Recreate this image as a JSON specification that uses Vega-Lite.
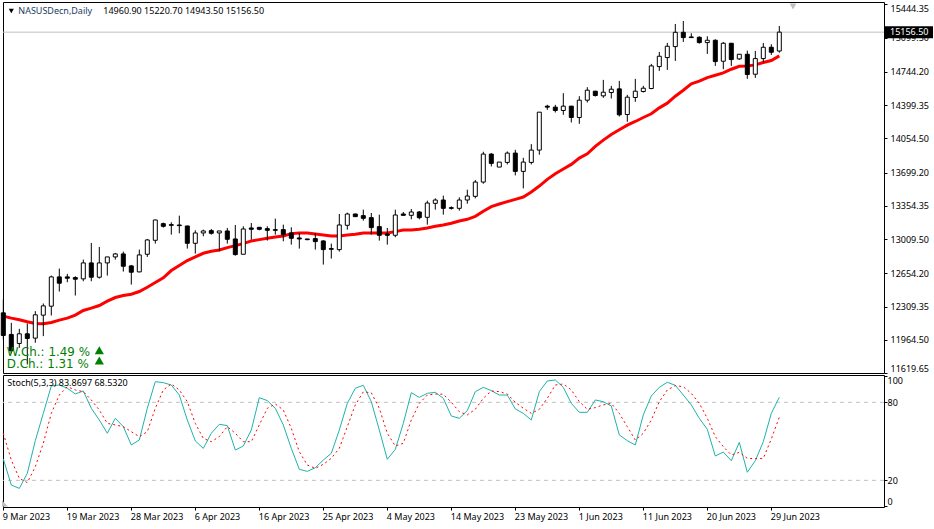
{
  "$schema": "https://vega.github.io/schema/vega-lite/v6.json",
  "background": "#ffffff",
  "padding": {"left": -4, "top": 1, "right": 0, "bottom": 0},
  "spacing": 0,
  "config": {"view": {"stroke": "#000000", "strokeWidth": 1}, "axis": {"labelOverlap": false}},
  "datasets": {
    "bars": [
      {"date":"9 Mar 2023","open":12244.0,"high":12382.1,"low":11967.7,"close":12009.2,"ma":12209.4,"k":36.4,"d":56.2},
      {"date":"10 Mar 2023","open":12019.5,"high":12140.4,"low":11822.7,"close":11850.3,"ma":12188.7,"k":16.4,"d":35.6},
      {"date":"12 Mar 2023","open":11926.3,"high":12078.2,"low":11881.4,"close":12026.4,"ma":12171.5,"k":13.8,"d":21.5},
      {"date":"13 Mar 2023","open":12026.4,"high":12133.5,"low":11708.7,"close":11978.1,"ma":12150.7,"k":25.4,"d":18.2},
      {"date":"14 Mar 2023","open":11981.5,"high":12261.3,"low":11933.2,"close":12223.3,"ma":12133.5,"k":50.5,"d":30.5},
      {"date":"15 Mar 2023","open":12219.8,"high":12340.7,"low":12002.2,"close":12316.5,"ma":12130.0,"k":71.5,"d":48.5},
      {"date":"16 Mar 2023","open":12313.0,"high":12630.7,"low":12216.3,"close":12616.9,"ma":12143.8,"k":92.6,"d":71.5},
      {"date":"17 Mar 2023","open":12616.9,"high":12703.3,"low":12465.0,"close":12551.3,"ma":12168.0,"k":93.3,"d":85.6},
      {"date":"19 Mar 2023","open":12616.9,"high":12648.0,"low":12561.7,"close":12603.1,"ma":12188.7,"k":90.8,"d":92.0},
      {"date":"20 Mar 2023","open":12610.0,"high":12623.8,"low":12423.6,"close":12592.8,"ma":12219.8,"k":86.4,"d":89.5},
      {"date":"21 Mar 2023","open":12596.2,"high":12796.5,"low":12572.0,"close":12762.0,"ma":12268.2,"k":88.7,"d":88.2},
      {"date":"22 Mar 2023","open":12762.0,"high":12969.2,"low":12572.0,"close":12613.5,"ma":12292.3,"k":75.4,"d":81.8},
      {"date":"23 Mar 2023","open":12613.5,"high":12927.7,"low":12599.7,"close":12762.0,"ma":12320.0,"k":66.4,"d":74.1},
      {"date":"24 Mar 2023","open":12762.0,"high":12824.1,"low":12630.7,"close":12824.1,"ma":12364.8,"k":56.2,"d":63.8},
      {"date":"26 Mar 2023","open":12824.1,"high":12865.6,"low":12796.5,"close":12855.2,"ma":12402.8,"k":67.7,"d":62.6},
      {"date":"27 Mar 2023","open":12855.2,"high":12879.4,"low":12672.2,"close":12727.4,"ma":12423.6,"k":61.3,"d":61.3},
      {"date":"28 Mar 2023","open":12730.9,"high":12741.3,"low":12537.5,"close":12665.3,"ma":12437.4,"k":47.2,"d":57.4},
      {"date":"29 Mar 2023","open":12668.7,"high":12900.1,"low":12665.3,"close":12844.9,"ma":12465.0,"k":51.0,"d":53.6},
      {"date":"30 Mar 2023","open":12851.8,"high":13010.6,"low":12824.1,"close":13000.3,"ma":12509.9,"k":75.4,"d":57.4},
      {"date":"31 Mar 2023","open":12996.8,"high":13210.9,"low":12962.3,"close":13207.4,"ma":12558.3,"k":95.9,"d":75.4},
      {"date":"2 Apr 2023","open":13169.5,"high":13179.8,"low":13128.0,"close":13141.8,"ma":12606.6,"k":95.1,"d":89.5},
      {"date":"3 Apr 2023","open":13159.1,"high":13183.3,"low":13055.5,"close":13152.2,"ma":12682.6,"k":93.3,"d":94.1},
      {"date":"4 Apr 2023","open":13155.7,"high":13252.3,"low":13069.3,"close":13148.7,"ma":12734.3,"k":85.6,"d":89.5},
      {"date":"5 Apr 2023","open":13145.3,"high":13148.7,"low":12910.5,"close":12965.7,"ma":12786.1,"k":66.4,"d":80.5},
      {"date":"6 Apr 2023","open":12965.7,"high":13100.4,"low":12858.7,"close":13072.8,"ma":12824.1,"k":50.3,"d":63.8},
      {"date":"7 Apr 2023","open":13072.8,"high":13107.3,"low":13038.3,"close":13093.5,"ma":12862.1,"k":44.6,"d":52.3},
      {"date":"9 Apr 2023","open":13096.9,"high":13114.2,"low":13055.5,"close":13069.3,"ma":12882.8,"k":56.2,"d":49.7},
      {"date":"10 Apr 2023","open":13072.8,"high":13093.5,"low":12882.8,"close":13093.5,"ma":12896.7,"k":63.1,"d":53.6},
      {"date":"11 Apr 2023","open":13093.5,"high":13124.6,"low":12962.3,"close":13007.2,"ma":12920.8,"k":62.1,"d":61.3},
      {"date":"12 Apr 2023","open":13010.6,"high":13155.7,"low":12837.9,"close":12848.3,"ma":12941.5,"k":43.3,"d":56.2},
      {"date":"13 Apr 2023","open":12851.8,"high":13141.8,"low":12851.8,"close":13114.2,"ma":12962.3,"k":46.4,"d":49.7},
      {"date":"14 Apr 2023","open":13124.6,"high":13176.4,"low":13003.7,"close":13110.8,"ma":12989.9,"k":58.7,"d":49.7},
      {"date":"16 Apr 2023","open":13131.5,"high":13134.9,"low":13100.4,"close":13110.8,"ma":13003.7,"k":83.6,"d":62.6},
      {"date":"17 Apr 2023","open":13117.7,"high":13141.8,"low":12993.3,"close":13100.4,"ma":13017.5,"k":81.3,"d":75.4},
      {"date":"18 Apr 2023","open":13107.3,"high":13221.3,"low":13055.5,"close":13100.4,"ma":13031.3,"k":75.4,"d":78.7},
      {"date":"19 Apr 2023","open":13107.3,"high":13159.1,"low":12986.4,"close":13055.5,"ma":13041.7,"k":62.6,"d":74.1},
      {"date":"20 Apr 2023","open":13072.8,"high":13131.5,"low":12951.9,"close":13017.5,"ma":13065.9,"k":44.6,"d":60.0},
      {"date":"21 Apr 2023","open":13021.0,"high":13072.8,"low":12910.5,"close":13010.6,"ma":13072.8,"k":28.5,"d":42.0},
      {"date":"23 Apr 2023","open":13010.6,"high":13010.6,"low":12996.8,"close":13003.7,"ma":13072.8,"k":26.9,"d":31.8},
      {"date":"24 Apr 2023","open":13014.1,"high":13072.8,"low":12900.1,"close":12983.0,"ma":13062.4,"k":29.7,"d":29.2},
      {"date":"25 Apr 2023","open":12989.9,"high":12996.8,"low":12744.7,"close":12900.1,"ma":13052.1,"k":35.6,"d":32.3},
      {"date":"26 Apr 2023","open":12910.5,"high":12962.3,"low":12806.9,"close":12903.6,"ma":13041.7,"k":40.8,"d":36.9},
      {"date":"27 Apr 2023","open":12900.1,"high":13269.6,"low":12879.4,"close":13155.7,"ma":13041.7,"k":58.7,"d":44.6},
      {"date":"28 Apr 2023","open":13152.2,"high":13283.4,"low":13107.3,"close":13269.6,"ma":13052.1,"k":79.2,"d":61.3},
      {"date":"30 Apr 2023","open":13269.6,"high":13273.1,"low":13242.0,"close":13242.0,"ma":13059.0,"k":90.8,"d":78.0},
      {"date":"1 May 2023","open":13252.4,"high":13314.5,"low":13200.6,"close":13224.7,"ma":13072.8,"k":93.1,"d":88.0},
      {"date":"2 May 2023","open":13231.6,"high":13280.0,"low":13055.5,"close":13128.0,"ma":13072.8,"k":80.5,"d":87.4},
      {"date":"3 May 2023","open":13138.4,"high":13262.7,"low":12993.4,"close":13048.6,"ma":13072.8,"k":58.7,"d":75.4},
      {"date":"4 May 2023","open":13062.4,"high":13124.6,"low":12951.9,"close":13048.6,"ma":13072.8,"k":36.2,"d":56.2},
      {"date":"5 May 2023","open":13048.6,"high":13314.5,"low":13027.9,"close":13259.3,"ma":13086.6,"k":43.8,"d":46.4},
      {"date":"7 May 2023","open":13269.6,"high":13290.3,"low":13252.4,"close":13255.8,"ma":13103.9,"k":63.8,"d":48.5},
      {"date":"8 May 2023","open":13255.8,"high":13321.4,"low":13214.4,"close":13290.3,"ma":13103.9,"k":87.4,"d":66.4},
      {"date":"9 May 2023","open":13290.3,"high":13300.7,"low":13214.4,"close":13231.6,"ma":13110.8,"k":83.8,"d":79.2},
      {"date":"10 May 2023","open":13235.1,"high":13407.8,"low":13159.1,"close":13383.6,"ma":13124.6,"k":86.9,"d":85.6},
      {"date":"11 May 2023","open":13380.1,"high":13431.9,"low":13314.5,"close":13414.7,"ma":13141.8,"k":87.7,"d":86.4},
      {"date":"12 May 2023","open":13414.7,"high":13459.6,"low":13262.7,"close":13328.3,"ma":13155.7,"k":83.1,"d":86.2},
      {"date":"14 May 2023","open":13335.3,"high":13349.0,"low":13314.5,"close":13328.3,"ma":13172.9,"k":69.5,"d":80.0},
      {"date":"15 May 2023","open":13328.3,"high":13442.3,"low":13304.2,"close":13414.7,"ma":13197.1,"k":67.7,"d":72.8},
      {"date":"16 May 2023","open":13414.7,"high":13521.7,"low":13376.7,"close":13456.1,"ma":13214.4,"k":73.6,"d":70.3},
      {"date":"17 May 2023","open":13452.6,"high":13621.9,"low":13431.9,"close":13601.1,"ma":13245.4,"k":88.2,"d":74.6},
      {"date":"18 May 2023","open":13601.1,"high":13915.4,"low":13583.9,"close":13891.2,"ma":13297.3,"k":91.5,"d":83.1},
      {"date":"19 May 2023","open":13891.2,"high":13901.6,"low":13763.4,"close":13794.5,"ma":13345.6,"k":89.0,"d":88.7},
      {"date":"21 May 2023","open":13756.5,"high":13808.3,"low":13756.5,"close":13808.3,"ma":13373.2,"k":85.6,"d":88.2},
      {"date":"22 May 2023","open":13804.9,"high":13918.8,"low":13784.2,"close":13901.6,"ma":13397.4,"k":85.6,"d":86.4},
      {"date":"23 May 2023","open":13901.6,"high":13936.1,"low":13670.2,"close":13711.6,"ma":13421.6,"k":74.9,"d":80.0},
      {"date":"24 May 2023","open":13711.6,"high":13853.2,"low":13535.5,"close":13808.3,"ma":13445.7,"k":71.5,"d":75.4},
      {"date":"25 May 2023","open":13804.9,"high":13994.8,"low":13784.2,"close":13932.7,"ma":13497.5,"k":66.4,"d":71.5},
      {"date":"26 May 2023","open":13932.7,"high":14326.3,"low":13884.3,"close":14326.3,"ma":13559.7,"k":88.2,"d":74.6},
      {"date":"28 May 2023","open":14388.5,"high":14402.3,"low":14350.5,"close":14378.1,"ma":13628.8,"k":96.4,"d":83.1},
      {"date":"29 May 2023","open":14378.1,"high":14402.3,"low":14322.9,"close":14343.6,"ma":13687.5,"k":97.2,"d":93.3},
      {"date":"30 May 2023","open":14343.6,"high":14523.2,"low":14298.7,"close":14388.5,"ma":13735.8,"k":91.5,"d":94.1},
      {"date":"31 May 2023","open":14388.5,"high":14391.9,"low":14219.3,"close":14271.1,"ma":13784.2,"k":79.2,"d":89.5},
      {"date":"1 Jun 2023","open":14271.1,"high":14492.1,"low":14205.5,"close":14450.6,"ma":13849.8,"k":72.3,"d":80.5},
      {"date":"2 Jun 2023","open":14450.6,"high":14585.3,"low":14426.5,"close":14554.3,"ma":13894.7,"k":72.3,"d":74.6},
      {"date":"4 Jun 2023","open":14543.9,"high":14547.3,"low":14488.6,"close":14499.0,"ma":13970.6,"k":81.8,"d":75.9},
      {"date":"5 Jun 2023","open":14495.5,"high":14661.3,"low":14474.8,"close":14533.5,"ma":14036.3,"k":80.5,"d":78.0},
      {"date":"6 Jun 2023","open":14530.1,"high":14599.1,"low":14467.9,"close":14564.6,"ma":14095.0,"k":77.2,"d":79.2},
      {"date":"7 Jun 2023","open":14568.1,"high":14650.9,"low":14281.4,"close":14298.7,"ma":14143.3,"k":54.9,"d":71.5},
      {"date":"8 Jun 2023","open":14302.2,"high":14505.9,"low":14226.2,"close":14481.7,"ma":14191.7,"k":50.5,"d":61.3},
      {"date":"9 Jun 2023","open":14478.3,"high":14671.7,"low":14433.4,"close":14543.9,"ma":14229.6,"k":47.2,"d":51.0},
      {"date":"11 Jun 2023","open":14540.4,"high":14599.1,"low":14530.1,"close":14575.0,"ma":14271.1,"k":70.3,"d":56.2},
      {"date":"12 Jun 2023","open":14571.5,"high":14827.1,"low":14564.6,"close":14806.3,"ma":14309.1,"k":84.9,"d":66.4},
      {"date":"13 Jun 2023","open":14799.4,"high":14951.4,"low":14754.5,"close":14906.5,"ma":14371.2,"k":91.5,"d":80.5},
      {"date":"14 Jun 2023","open":14892.7,"high":15044.6,"low":14764.9,"close":15010.1,"ma":14419.6,"k":95.4,"d":89.5},
      {"date":"15 Jun 2023","open":15006.6,"high":15241.5,"low":14858.1,"close":15155.1,"ma":14492.1,"k":93.1,"d":92.8},
      {"date":"16 Jun 2023","open":15155.1,"high":15272.5,"low":15055.0,"close":15099.9,"ma":14554.3,"k":85.6,"d":92.0},
      {"date":"18 Jun 2023","open":15106.8,"high":15144.8,"low":15099.9,"close":15099.9,"ma":14619.9,"k":78.0,"d":86.9},
      {"date":"19 Jun 2023","open":15103.3,"high":15113.7,"low":15037.7,"close":15048.1,"ma":14647.5,"k":67.7,"d":79.2},
      {"date":"20 Jun 2023","open":15048.1,"high":15113.7,"low":14930.7,"close":15072.2,"ma":14685.5,"k":59.2,"d":67.7},
      {"date":"21 Jun 2023","open":15072.2,"high":15082.6,"low":14806.3,"close":14851.2,"ma":14709.7,"k":38.7,"d":53.6},
      {"date":"22 Jun 2023","open":14854.7,"high":15055.0,"low":14771.8,"close":15041.2,"ma":14733.8,"k":41.8,"d":45.9},
      {"date":"23 Jun 2023","open":15041.2,"high":15044.6,"low":14806.3,"close":14872.0,"ma":14771.8,"k":35.1,"d":39.5},
      {"date":"25 Jun 2023","open":14878.9,"high":14927.2,"low":14868.5,"close":14927.2,"ma":14802.9,"k":49.2,"d":41.5},
      {"date":"26 Jun 2023","open":14927.2,"high":14965.2,"low":14671.7,"close":14716.6,"ma":14806.3,"k":26.2,"d":36.9},
      {"date":"27 Jun 2023","open":14720.0,"high":14961.7,"low":14682.0,"close":14882.3,"ma":14816.7,"k":35.1,"d":36.7},
      {"date":"28 Jun 2023","open":14882.3,"high":15044.6,"low":14844.3,"close":14999.7,"ma":14840.9,"k":49.7,"d":36.9},
      {"date":"29 Jun 2023","open":14999.7,"high":15030.8,"low":14920.3,"close":14947.9,"ma":14861.6,"k":71.5,"d":51.8},
      {"date":"30 Jun 2023","open":14960.9,"high":15220.7,"low":14943.5,"close":15156.5,"ma":14909.9,"k":83.87,"d":68.53}
    ]
  },
  "vconcat": [
    {
      "width": 881,
      "height": 371,
      "data": {"name": "bars"},
      "encoding": {
        "x": {
          "field": "date",
          "type": "ordinal",
          "sort": null,
          "axis": null,
          "scale": {"type": "point", "padding": 0, "range": [0.3, 776.3]}
        }
      },
      "layer": [
        {
          "mark": {"type": "rule", "color": "#c0c0c0", "strokeWidth": 1},
          "data": {"values": [{"last": 15156.5}]},
          "encoding": {
            "x": null,
            "y": {"field": "last", "type": "quantitative", "title": null, "scale": {"domain": [11619.65, 15469.4], "nice": false, "zero": false},
              "axis": {"orient": "right", "grid": false, "domain": false, "title": null, "tickColor": "#000000", "tickSize": 3, "tickCount": 12,
                "values": [15444.35, 15099.5, 14744.2, 14399.35, 14054.5, 13699.2, 13354.35, 13009.5, 12654.2, 12309.35, 11964.5, 11619.65],
                "format": ".2f", "labelFont": "Noto Sans", "labelFontSize": 9, "labelColor": "#000000", "labelPadding": 3, "labelFlush": 5, "labelOverlap": false, "labelBound": false}}
          }
        },
        {
          "mark": {"type": "line", "color": "#ff0000", "strokeWidth": 3, "interpolate": "linear"},
          "encoding": {"y": {"field": "ma", "type": "quantitative", "title": null, "scale": {"domain": [11619.65, 15469.4], "nice": false, "zero": false}}}
        },
        {
          "mark": {"type": "rule", "color": "#000000", "strokeWidth": 1},
          "encoding": {
            "y": {"field": "low", "type": "quantitative", "title": null, "scale": {"domain": [11619.65, 15469.4], "nice": false, "zero": false}},
            "y2": {"field": "high"}
          }
        },
        {
          "mark": {"type": "bar", "size": 4, "stroke": "#000000", "strokeWidth": 1},
          "encoding": {
            "y": {"field": "open", "type": "quantitative", "title": null, "scale": {"domain": [11619.65, 15469.4], "nice": false, "zero": false}},
            "y2": {"field": "close"},
            "fill": {"condition": {"test": "datum.close >= datum.open", "value": "#ffffff"}, "value": "#000000"}
          }
        },
        {
          "mark": {"type": "point", "shape": "triangle-down", "filled": true, "size": 26, "color": "#000000", "opacity": 1},
          "data": {"values": [{"date": "10 Mar 2023", "price": 15376}]},
          "encoding": {"y": {"field": "price", "type": "quantitative", "title": null, "scale": {"domain": [11619.65, 15469.4], "nice": false, "zero": false}}}
        },
        {
          "mark": {"type": "text", "align": "left", "baseline": "middle", "dx": -1, "font": "Noto Sans", "fontSize": 9, "color": "#1c3a5e"},
          "data": {"values": [{"date": "12 Mar 2023", "price": 15376, "label": "NASUSDecn,Daily"}]},
          "encoding": {
            "y": {"field": "price", "type": "quantitative", "title": null, "scale": {"domain": [11619.65, 15469.4], "nice": false, "zero": false}},
            "text": {"field": "label"}
          }
        },
        {
          "mark": {"type": "text", "align": "left", "baseline": "middle", "dx": 4, "font": "Noto Sans", "fontSize": 9, "color": "#000000"},
          "data": {"values": [{"date": "23 Mar 2023", "price": 15376, "label": "14960.90 15220.70 14943.50 15156.50"}]},
          "encoding": {
            "y": {"field": "price", "type": "quantitative", "title": null, "scale": {"domain": [11619.65, 15469.4], "nice": false, "zero": false}},
            "text": {"field": "label"}
          }
        },
        {
          "mark": {"type": "text", "align": "left", "baseline": "middle", "dx": 3.5, "font": "DejaVu Sans", "fontSize": 11.9, "color": "#008000"},
          "data": {"values": [
            {"date": "9 Mar 2023", "price": 11840, "label": "W.Ch.: 1.49 %"},
            {"date": "9 Mar 2023", "price": 11710, "label": "D.Ch.: 1.31 %"}
          ]},
          "encoding": {
            "y": {"field": "price", "type": "quantitative", "title": null, "scale": {"domain": [11619.65, 15469.4], "nice": false, "zero": false}},
            "text": {"field": "label"}
          }
        },
        {
          "mark": {"type": "point", "shape": "triangle-up", "filled": true, "size": 85, "color": "#008000", "opacity": 1},
          "data": {"values": [
            {"date": "23 Mar 2023", "price": 11855},
            {"date": "23 Mar 2023", "price": 11750}
          ]},
          "encoding": {"y": {"field": "price", "type": "quantitative", "title": null, "scale": {"domain": [11619.65, 15469.4], "nice": false, "zero": false}}}
        },
        {
          "mark": {"type": "point", "shape": "triangle-down", "filled": true, "size": 45, "color": "#c0c0c0", "opacity": 1, "xOffset": 13.7},
          "data": {"values": [{"date": "30 Jun 2023", "price": 15423}]},
          "encoding": {"y": {"field": "price", "type": "quantitative", "title": null, "scale": {"domain": [11619.65, 15469.4], "nice": false, "zero": false}}}
        },
        {
          "mark": {"type": "tick", "orient": "horizontal", "size": 48, "thickness": 12, "color": "#000000", "opacity": 1, "xOffset": 129.7},
          "data": {"values": [{"date": "30 Jun 2023", "price": 15156.5}]},
          "encoding": {"y": {"field": "price", "type": "quantitative", "title": null, "scale": {"domain": [11619.65, 15469.4], "nice": false, "zero": false}}}
        },
        {
          "mark": {"type": "text", "align": "left", "baseline": "middle", "dx": 110.7, "font": "Noto Sans", "fontSize": 9, "color": "#ffffff"},
          "data": {"values": [{"date": "30 Jun 2023", "price": 15156.5, "label": "15156.50"}]},
          "encoding": {
            "y": {"field": "price", "type": "quantitative", "title": null, "scale": {"domain": [11619.65, 15469.4], "nice": false, "zero": false}},
            "text": {"field": "label"}
          }
        }
      ]
    },
    {
      "width": 881,
      "height": 132,
      "data": {"name": "bars"},
      "encoding": {
        "x": {
          "field": "date",
          "type": "ordinal",
          "sort": null,
          "title": null,
          "scale": {"type": "point", "padding": 0, "range": [0.3, 776.3]},
          "axis": {"domain": false, "grid": false, "title": null, "tickColor": "#000000", "tickSize": 3, "labelAngle": 0, "labelAlign": "left", "labelFont": "Noto Sans", "labelFontSize": 9, "labelColor": "#000000", "labelPadding": 2, "labelOffset": -1, "labelOverlap": false, "labelBound": false, "labelFlush": false,
            "values": ["9 Mar 2023", "19 Mar 2023", "28 Mar 2023", "6 Apr 2023", "16 Apr 2023", "25 Apr 2023", "4 May 2023", "14 May 2023", "23 May 2023", "1 Jun 2023", "11 Jun 2023", "20 Jun 2023", "29 Jun 2023"]}
        }
      },
      "layer": [
        {
          "mark": {"type": "rule", "color": "#c0c0c0", "strokeWidth": 1, "strokeDash": [4, 4]},
          "data": {"values": [{"level": 80}, {"level": 20}]},
          "encoding": {
            "x": null,
            "y": {"field": "level", "type": "quantitative", "title": null, "scale": {"domain": [-0.5, 101], "nice": false, "zero": false},
              "axis": {"orient": "right", "grid": false, "domain": false, "title": null, "tickColor": "#000000", "tickSize": 3, "tickCount": 4, "values": [0, 20, 80, 100], "labelFont": "Noto Sans", "labelFontSize": 9, "labelColor": "#000000", "labelPadding": 0, "labelFlush": 5, "labelOverlap": false, "labelBound": false}}
          }
        },
        {
          "mark": {"type": "line", "color": "#20b2aa", "strokeWidth": 1},
          "encoding": {"y": {"field": "k", "type": "quantitative", "title": null, "scale": {"domain": [-0.5, 101], "nice": false, "zero": false}}}
        },
        {
          "mark": {"type": "line", "color": "#ff0000", "strokeWidth": 1, "strokeDash": [2, 3]},
          "encoding": {"y": {"field": "d", "type": "quantitative", "title": null, "scale": {"domain": [-0.5, 101], "nice": false, "zero": false}}}
        },
        {
          "mark": {"type": "text", "align": "left", "baseline": "middle", "dx": 4, "font": "Noto Sans", "fontSize": 9, "color": "#000000"},
          "data": {"values": [{"date": "9 Mar 2023", "level": 94.6, "label": "Stoch(5,3,3) 83.8697 68.5320"}]},
          "encoding": {
            "y": {"field": "level", "type": "quantitative", "title": null, "scale": {"domain": [-0.5, 101], "nice": false, "zero": false}},
            "text": {"field": "label"}
          }
        },
        {
          "mark": {"type": "point", "shape": "M-1,1 L-1,-1 L1,1 Z", "filled": true, "size": 36, "color": "#c0c0c0", "opacity": 1, "xOffset": 1.7},
          "data": {"values": [{"date": "9 Mar 2023", "level": 2.2}]},
          "encoding": {"y": {"field": "level", "type": "quantitative", "title": null, "scale": {"domain": [-0.5, 101], "nice": false, "zero": false}}}
        }
      ]
    }
  ]
}
